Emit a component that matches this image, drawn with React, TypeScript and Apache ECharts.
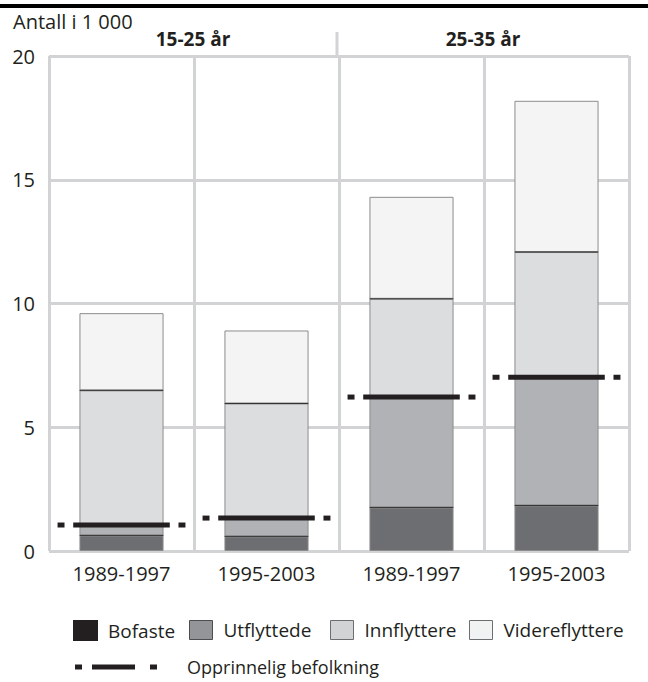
import React, { useEffect, useRef } from "react";
import * as echarts from "echarts";

const categories = ["1989-1997", "1995-2003", "1989-1997", "1995-2003"];
const groupLabels = ["15-25 år", "25-35 år"];
const bofaste = [0.63, 0.59, 1.76, 1.84];
const utflyttede = [0.42, 0.74, 4.46, 5.18];
const innflyttere = [5.44, 4.63, 3.97, 5.06];
const videreflyttere = [3.12, 2.95, 4.12, 6.11];
const opprinnelig = [1.05, 1.33, 6.22, 7.02];
const yTicks = { min: 0, max: 20, interval: 5 };

const FONT = "Open Sans";
const TEXT = "#231f20";
const GRID = "#d1d3d4";

export default function App() {
  const ref = useRef<HTMLDivElement>(null);
  useEffect(() => {
    if (!ref.current) return;
    const chart = echarts.init(ref.current, undefined, { renderer: "svg" });

    const cum = categories.map((_, i) => [
      bofaste[i],
      bofaste[i] + utflyttede[i],
      bofaste[i] + utflyttede[i] + innflyttere[i],
    ]);

    const barSeries = (name: string, data: number[], color: string) => ({
      name,
      type: "bar",
      stack: "total",
      barWidth: "58%",
      data,
      itemStyle: { color, borderColor: "#8c8c8c", borderWidth: 1 },
      z: 2,
    });

    const legendBase = {
      orient: "horizontal",
      padding: 0,
      itemWidth: 23,
      itemHeight: 19,
      icon: "rect",
      textStyle: { fontFamily: FONT, fontSize: 19, color: TEXT, padding: [0, 0, 0, 6] },
      selectedMode: false,
    };

    const option: any = {
      animation: false,
      textStyle: { fontFamily: FONT },
      grid: { left: 49, right: 19, top: 56, bottom: 131 },
      xAxis: {
        type: "category",
        data: categories,
        axisLine: { show: false },
        axisTick: { show: false },
        axisLabel: { fontFamily: FONT, fontSize: 20, color: TEXT, margin: 12 },
        splitLine: { show: true, interval: 0, lineStyle: { color: GRID, width: 3 } },
      },
      yAxis: {
        type: "value",
        min: yTicks.min,
        max: yTicks.max,
        interval: yTicks.interval,
        axisLine: { show: false },
        axisTick: { show: false },
        axisLabel: { fontFamily: FONT, fontSize: 20, color: TEXT, margin: 14 },
        splitLine: { show: true, lineStyle: { color: GRID, width: 3 } },
      },
      legend: [
        { ...legendBase, left: 73, top: 620, data: [{ name: "Bofaste", itemStyle: { color: "#231f20", borderColor: "#231f20" } }] },
        { ...legendBase, left: 189, top: 620, data: [{ name: "Utflyttede", itemStyle: { color: "#939598", borderColor: "#4d4d4f", borderWidth: 1 } }] },
        { ...legendBase, left: 330, top: 620, data: [{ name: "Innflyttere", itemStyle: { color: "#d1d3d4", borderColor: "#6d6e71", borderWidth: 1 } }] },
        { ...legendBase, left: 469, top: 620, data: [{ name: "Videreflyttere", itemStyle: { color: "#f1f2f2", borderColor: "#6d6e71", borderWidth: 1 } }] },
        {
          ...legendBase,
          left: 75,
          top: 658,
          itemWidth: 82,
          itemHeight: 5,
          textStyle: { fontFamily: FONT, fontSize: 18, color: TEXT, padding: [0, 0, 0, 25] },
          data: [
            {
              name: "Opprinnelig befolkning",
              icon: "path://M0,0h7v5h-7z M17,0h43v5h-43z M75,0h7v5h-7z",
              itemStyle: { color: "#231f20" },
            },
          ],
        },
      ],
      series: [
        barSeries("Bofaste", bofaste, "#6d6e71"),
        barSeries("Utflyttede", utflyttede, "#b1b2b5"),
        barSeries("Innflyttere", innflyttere, "#dcdddf"),
        barSeries("Videreflyttere", videreflyttere, "#f4f4f4"),
        {
          name: "boundaries",
          type: "custom",
          z: 3,
          silent: true,
          data: cum.map((c, i) => [i, c[0], c[1], c[2]]),
          renderItem: (params: any, api: any) => {
            const w = api.size([1, 0])[0];
            const half = w * 0.29;
            const children = [1, 2, 3].map((k) => {
              const p = api.coord([api.value(0), api.value(k)]);
              return {
                type: "line",
                shape: { x1: p[0] - half, y1: p[1], x2: p[0] + half, y2: p[1] },
                style: { stroke: "#333333", lineWidth: 1 },
              };
            });
            return { type: "group", children };
          },
        },
        {
          name: "Opprinnelig befolkning",
          type: "custom",
          z: 4,
          itemStyle: { color: "#231f20" },
          data: opprinnelig.map((v, i) => [i, v]),
          renderItem: (params: any, api: any) => {
            const p = api.coord([api.value(0), api.value(1)]);
            const w = api.size([1, 0])[0];
            const h = 5;
            const segs = [
              [-0.441, -0.393],
              [-0.333, 0.333],
              [0.393, 0.441],
            ];
            return {
              type: "group",
              children: segs.map(([a, b]) => ({
                type: "rect",
                shape: { x: p[0] + a * w, y: p[1] - h / 2, width: (b - a) * w, height: h },
                style: { fill: "#231f20" },
              })),
            };
          },
        },
      ],
      graphic: [
        { type: "rect", left: 0, top: 4, shape: { width: 648, height: 4 }, style: { fill: "#000000" } },
        {
          type: "text",
          left: 13,
          top: 11,
          style: { text: "Antall i 1 000", font: `20px '${FONT}'`, fill: TEXT },
        },
        {
          type: "text",
          x: 193,
          y: 39,
          style: {
            text: groupLabels[0],
            font: `bold 19px '${FONT}'`,
            fill: TEXT,
            align: "center",
            verticalAlign: "middle",
          },
        },
        {
          type: "text",
          x: 483,
          y: 39,
          style: {
            text: groupLabels[1],
            font: `bold 19px '${FONT}'`,
            fill: TEXT,
            align: "center",
            verticalAlign: "middle",
          },
        },
        {
          type: "line",
          shape: { x1: 337, y1: 32, x2: 337, y2: 56 },
          style: { stroke: GRID, lineWidth: 3 },
        },
      ],
    };

    chart.setOption(option);
    return () => chart.dispose();
  }, []);

  return (
    <div
      ref={ref}
      style={{ position: "fixed", left: 0, top: 0, width: 648, height: 682, background: "#ffffff" }}
    />
  );
}
